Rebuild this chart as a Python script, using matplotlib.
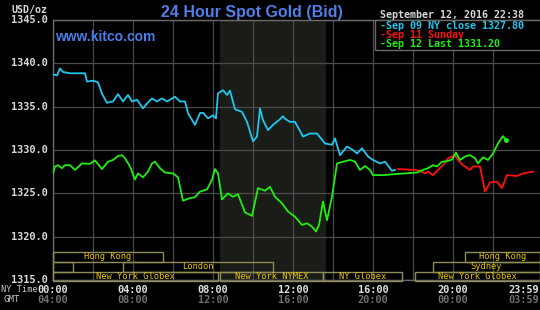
import matplotlib
matplotlib.use("Agg")
import matplotlib.pyplot as plt
import matplotlib.transforms as mtransforms
from matplotlib.patches import Rectangle

# ---- data (hours NY time, price USD/oz) ----
sep09_h = [0, 0.1, 0.2, 0.35, 0.5, 0.85, 1.6, 1.7, 2.0, 2.25, 2.45, 2.7, 3.0, 3.25, 3.5, 3.75,
           3.95, 4.2, 4.5, 4.75, 4.95, 5.2, 5.45, 5.7, 6.1, 6.35, 6.6, 6.75, 7.1, 7.35, 7.5,
           7.75, 8.0, 8.15, 8.25, 8.5, 8.7, 8.85, 9.1, 9.45, 9.7, 10.0, 10.2, 10.35, 10.5,
           10.75, 11.0, 11.35, 11.5, 11.6, 11.85, 12.1, 12.5, 12.85, 13.2, 13.6, 13.95, 14.1,
           14.35, 14.7, 15.0, 15.2, 15.45, 15.75, 16.0, 16.35, 16.6, 16.95, 17.1]
sep09_v = [1338.65, 1338.7, 1338.6, 1339.4, 1339.0, 1338.85, 1338.85, 1337.9, 1338.0, 1337.8,
           1336.5, 1335.45, 1335.6, 1336.45, 1335.6, 1336.35, 1335.6, 1335.8, 1334.8, 1335.5,
           1335.95, 1335.6, 1335.95, 1335.6, 1336.15, 1335.6, 1335.6, 1334.25, 1332.9, 1334.25,
           1334.3, 1333.65, 1334.0, 1333.65, 1336.55, 1336.9, 1336.35, 1336.85, 1334.7, 1334.4,
           1333.25, 1331.0, 1331.55, 1334.8, 1333.45, 1332.3, 1332.9, 1333.55, 1333.9, 1333.6,
           1333.25, 1333.25, 1331.55, 1331.9, 1331.9, 1330.75, 1330.6, 1331.35, 1329.4, 1330.4,
           1330.0, 1329.6, 1330.2, 1329.25, 1328.85, 1328.45, 1328.65, 1327.6, 1327.7]

sep11_h = [17.25, 18.1, 18.35, 18.6, 18.75, 19.0, 19.25, 19.5, 19.75, 20.1, 20.25, 20.5, 20.85,
           21.0, 21.35, 21.6, 21.85, 22.2, 22.45, 22.7, 23.2, 23.5, 24.0]
sep11_v = [1327.8, 1327.7, 1327.6, 1327.3, 1327.5, 1327.1, 1327.7, 1328.25, 1329.05, 1329.4,
           1328.85, 1328.25, 1327.7, 1328.1, 1328.1, 1325.2, 1326.25, 1326.35, 1325.6, 1327.1,
           1327.0, 1327.3, 1327.5]

sep12_h = [0, 0.1, 0.25, 0.45, 0.6, 0.85, 1.1, 1.45, 1.85, 2.1, 2.45, 2.75, 3.0, 3.25, 3.45,
           3.6, 3.85, 4.1, 4.25, 4.5, 4.75, 4.95, 5.1, 5.35, 5.6, 6.0, 6.25, 6.5, 6.85, 7.1,
           7.35, 7.7, 7.95, 8.1, 8.25, 8.45, 8.75, 9.0, 9.25, 9.6, 9.95, 10.25, 10.6, 10.85,
           11.1, 11.45, 11.75, 12.1, 12.45, 12.7, 12.95, 13.15, 13.3, 13.5, 13.7, 13.95, 14.2,
           14.5, 14.85, 15.1, 15.35, 15.6, 15.85, 16.0, 16.5, 17.0, 18.2, 18.5, 18.75, 19.0,
           19.2, 19.45, 19.7, 19.95, 20.15, 20.35, 20.6, 20.85, 21.1, 21.25, 21.5, 21.75, 22.0,
           22.25, 22.5, 22.63]
sep12_v = [1327.3, 1328.1, 1328.25, 1327.9, 1328.25, 1328.25, 1327.7, 1328.45, 1328.4, 1328.8,
           1327.8, 1328.65, 1328.85, 1329.3, 1329.4, 1329.05, 1328.1, 1326.6, 1327.3, 1326.85,
           1327.5, 1328.45, 1328.65, 1327.9, 1327.4, 1327.3, 1326.85, 1324.15, 1324.45, 1324.55,
           1325.2, 1325.45, 1326.55, 1327.8, 1327.3, 1324.3, 1325.0, 1324.6, 1324.9, 1322.8,
           1322.4, 1325.6, 1325.3, 1325.75, 1324.6, 1323.85, 1322.9, 1322.3, 1321.35, 1321.55,
           1321.15, 1320.6, 1321.35, 1324.05, 1321.9, 1324.6, 1328.45, 1328.65, 1328.85,
           1328.65, 1327.7, 1328.15, 1327.7, 1327.1, 1327.1, 1327.2, 1327.4, 1327.7, 1327.9,
           1328.25, 1328.1, 1328.65, 1328.7, 1328.9, 1329.7, 1328.85, 1329.25, 1329.4, 1329.05,
           1328.45, 1329.15, 1328.85, 1329.6, 1330.75, 1331.6, 1331.2]

y_ticks = [1315.0, 1320.0, 1325.0, 1330.0, 1335.0, 1340.0, 1345.0]
x_tick_hours = [0, 4, 8, 12, 16, 20, 23.983]
x_labels_ny = ["00:00", "04:00", "08:00", "12:00", "16:00", "20:00", "23:59"]
x_labels_gmt = ["04:00", "08:00", "12:00", "16:00", "20:00", "00:00", "03:59"]

legend_labels = ["-Sep 09 NY close 1327.80", "-Sep 11 Sunday", "-Sep 12 Last 1331.20"]

# sessions: (row, start hour, end hour, label)
sessions = [
    (0, 0.0, 5.5, "Hong Kong"), (0, 20.6, 24.35, "Hong Kong"),
    (1, 0.0, 1.0, ""), (1, 3.5, 11.0, "London"), (1, 19.0, 24.35, "Sydney"),
    (2, 0.0, 8.25, "New York Globex"), (2, 8.33, 13.5, "New York NYMEX"),
    (2, 13.5, 17.45, "NY Globex"), (2, 18.1, 24.35, "New York Globex"),
]
nymex_start, nymex_end = 8.33, 13.6

# ---- styling ----
W, H = 540, 310
fig = plt.figure(figsize=(W / 100, H / 100), dpi=100, facecolor="black")
ax = fig.add_axes([53 / W, (H - 280) / H, (541 - 53) / W, 260 / H])
ax.set_facecolor("black")
ax.set_xlim(0, 24.4)
ax.set_ylim(1315, 1345)

mono = "DejaVu Sans Mono"
grid_c = "#4a4a4a"
for s in ax.spines.values():
    s.set_color("#6a6a6a")
    s.set_linewidth(1.0)

ax.set_yticks(y_ticks)
ax.set_xticks(list(range(0, 24, 2)))
ax.grid(True, color=grid_c, linewidth=0.9)
ax.tick_params(length=0, labelleft=False, labelbottom=False)

ax.axvspan(nymex_start, nymex_end, color="#1a1c18", zorder=0)

ax.plot(sep09_h, sep09_v, color="#20c8f0", lw=1.3, zorder=3)
ax.plot(sep11_h, sep11_v, color="#ff1010", lw=1.3, zorder=3)
ax.plot(sep12_h, sep12_v, color="#20ee10", lw=1.3, zorder=4)
ax.plot(sep12_h[-1:], sep12_v[-1:], "o", color="#20ee10", ms=2.5, zorder=4)

# y tick labels
for v in y_ticks:
    fig.text(48 / W, (H - (280 - (v - 1315) / 30 * 260)) / H, f"{v:.1f}", color="#d8d8d8",
             family=mono, weight="bold", fontsize=7.4, ha="right", va="center")
fig.text(12 / W, (H - 10) / H, "USD/oz", color="#d8d8d8", family=mono, weight="bold",
         fontsize=7.2, ha="left", va="center")

# x labels
for i, (h, a, b) in enumerate(zip(x_tick_hours, x_labels_ny, x_labels_gmt)):
    if i == len(x_tick_hours) - 1:
        xf, ha = 539 / W, "right"
    else:
        xf, ha = (53 + h * 20) / W, "center"
    fig.text(xf, (H - 290) / H, a, color="#e0e0e0", family=mono, weight="bold", fontsize=7.4,
             ha=ha, va="center")
    fig.text(xf, (H - 300) / H, b, color="#6e6e6e", family=mono, weight="bold", fontsize=7.4,
             ha=ha, va="center")
fig.text(1 / W, (H - 290) / H, "NY Time", color="#c8c8c8", family=mono, fontsize=6.2,
         ha="left", va="center")
fig.text(20 / W, (H - 300) / H, "GMT", color="#c8c8c8", family=mono, fontsize=6.6,
         ha="right", va="center")

# title and site
fig.text(252 / W, (H - 12) / H, "24 Hour Spot Gold (Bid)", color="#4f7fe8",
         family="Liberation Sans", weight="bold", fontsize=11.5, ha="center", va="center")
fig.text(55 / W, (H - 37) / H, "www.kitco.com", color="#4a7de8", family="Liberation Sans",
         weight="bold", fontsize=10, ha="left", va="center")

# sessions boxes
trans = mtransforms.blended_transform_factory(ax.transData, ax.transAxes)
row_y = [(0.070, 0.038), (0.032, 0.038), (-0.004, 0.036)]
for row, s, e, lab in sessions:
    y0, hh = row_y[row]
    ax.add_patch(Rectangle((s, y0), e - s, hh, transform=trans, fill=False,
                           edgecolor="#8e8c58", lw=1.0, zorder=5, clip_on=False))
    if lab:
        ax.text((s + e) / 2, y0 + hh / 2, lab, transform=trans, color="#e8c400",
                family=mono, fontsize=6.3, ha="center", va="center", zorder=6)

# legend box
ax.add_patch(Rectangle(((375 - 53) / 488, (280 - 50) / 260), 1.0, 30 / 260,
                       transform=ax.transAxes, facecolor="black", edgecolor="#6a6a6a",
                       lw=1.0, zorder=7, clip_on=False))
leg_cols = ["#20c8f0", "#ff1010", "#20ee10"]
for i, (lab, c) in enumerate(zip(legend_labels, leg_cols)):
    fig.text(380 / W, (H - (26 + 9 * i)) / H, lab, color=c, family=mono, weight="bold",
             fontsize=7.2, ha="left", va="center", zorder=8)
fig.text(380 / W, (H - 15) / H, "September 12, 2016 22:38", color="#d8d8d8", family=mono,
         weight="bold", fontsize=7.2, ha="left", va="center")

fig.savefig("out.png", dpi=100, facecolor="black")
